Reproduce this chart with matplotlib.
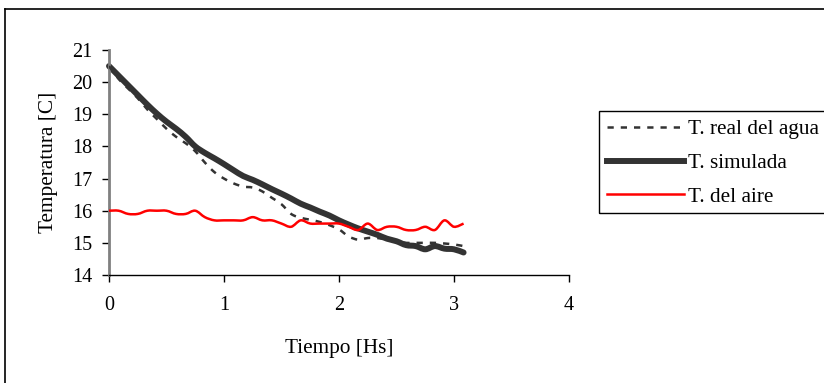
import matplotlib
matplotlib.use("Agg")
import matplotlib.pyplot as plt
from matplotlib.patches import Rectangle, PathPatch
from matplotlib.lines import Line2D
from matplotlib.path import Path

plt.rcParams["font.family"] = ["Liberation Serif", "DejaVu Serif"]

# time in minutes (5-min sampling)
minutes = [0, 5, 10, 15, 20, 25, 30, 35, 40, 45, 50, 55, 60, 65, 70, 75, 80, 85, 90,
           95, 100, 105, 110, 115, 120, 125, 130, 135, 140, 145, 150, 155, 160, 165,
           170, 175, 180, 185]

t_real = [20.5, 20.1, 19.8, 19.5, 19.15, 18.85, 18.55, 18.3, 18.1, 17.85, 17.5, 17.2,
          17.0, 16.85, 16.75, 16.72, 16.6, 16.4, 16.2, 15.9, 15.78, 15.72, 15.65, 15.55,
          15.42, 15.2, 15.1, 15.15, 15.15, 15.1, 15.05, 15.0, 15.0, 15.0, 15.0, 14.98,
          14.95, 14.9]

t_sim = [20.5, 20.2, 19.9, 19.6, 19.3, 19.02, 18.77, 18.55, 18.3, 18.0, 17.8, 17.63,
         17.45, 17.26, 17.08, 16.96, 16.82, 16.67, 16.53, 16.38, 16.22, 16.1, 15.97,
         15.85, 15.7, 15.57, 15.45, 15.35, 15.25, 15.13, 15.05, 14.93, 14.9, 14.8, 14.9,
         14.82, 14.8, 14.7]

t_air = [16.0, 16.0, 15.9, 15.9, 16.0, 16.0, 16.0, 15.9, 15.9, 16.0, 15.8, 15.7, 15.7,
         15.7, 15.7, 15.8, 15.7, 15.7, 15.6, 15.5, 15.7, 15.6, 15.6, 15.6, 15.6, 15.5,
         15.4, 15.6, 15.4, 15.5, 15.5, 15.4, 15.4, 15.5, 15.4, 15.7, 15.5, 15.6]

labels = ["T. real del agua", "T. simulada", "T. del aire"]
DARK = "#333333"
RED = "#ff0000"


def smooth_path(x, y):
    """Excel-style smoothed line: cubic Bezier segments through every point."""
    verts = [(x[0], y[0])]
    codes = [Path.MOVETO]
    n = len(x)
    for i in range(n - 1):
        x0, y0 = (x[i - 1], y[i - 1]) if i > 0 else (x[i], y[i])
        x3, y3 = (x[i + 2], y[i + 2]) if i + 2 < n else (x[i + 1], y[i + 1])
        c1 = (x[i] + (x[i + 1] - x0) / 6, y[i] + (y[i + 1] - y0) / 6)
        c2 = (x[i + 1] - (x3 - x[i]) / 6, y[i + 1] - (y3 - y[i]) / 6)
        verts += [c1, c2, (x[i + 1], y[i + 1])]
        codes += [Path.CURVE4] * 3
    return Path(verts, codes)


hours = [m / 60 for m in minutes]

W, H = 824, 383
fig = plt.figure(figsize=(W / 100, H / 100), dpi=100)
ax = fig.add_axes([109 / W, 1 - 275 / H, 460 / W, 225 / H])

ax.add_patch(PathPatch(smooth_path(hours, t_real), fill=False, ec=DARK, lw=1.8,
                       ls=(0, (2.5, 2.8)), zorder=3))
ax.add_patch(PathPatch(smooth_path(hours, t_sim), fill=False, ec=DARK, lw=4.3,
                       capstyle="round", zorder=2, clip_on=False))
ax.add_patch(PathPatch(smooth_path(hours, t_air), fill=False, ec=RED, lw=1.8, zorder=4))

ax.set_xlim(0, 4)
ax.set_ylim(14, 21)
ax.set_xticks([0, 1, 2, 3, 4])
ax.set_yticks(range(14, 22))

for s in ["top", "right"]:
    ax.spines[s].set_visible(False)
ax.spines["left"].set_color("#808080")
ax.spines["left"].set_linewidth(2)
ax.spines["bottom"].set_color("black")
ax.spines["bottom"].set_linewidth(1)
ax.tick_params(axis="both", direction="out", length=5, width=1, color="black",
               labelsize=14.5, pad=7)
ax.tick_params(axis="x", pad=10)

ax.set_xlabel("Tiempo [Hs]", fontsize=15.3)
ax.set_ylabel("Temperatura [C]", fontsize=15.3)
ax.xaxis.set_label_coords(0.5, -0.285)
ax.yaxis.set_label_coords(-0.111, 0.5)

# outer chart-area frame (open at right and bottom)
fig.add_artist(Line2D([5 / W, 5 / W], [0, 1 - 9 / H], transform=fig.transFigure,
                      color="black", lw=1.2))
fig.add_artist(Line2D([5 / W, 1], [1 - 9 / H, 1 - 9 / H], transform=fig.transFigure,
                      color="black", lw=1.2))

# legend box
fig.add_artist(Rectangle((599 / W, 1 - 213 / H), 240 / W, 102 / H,
                         transform=fig.transFigure, fill=False, ec="black", lw=1))
handles = [Line2D([], [], color=DARK, lw=1.8, ls=(0, (2.5, 2.8))),
           Line2D([], [], color=DARK, lw=4.3),
           Line2D([], [], color=RED, lw=1.8)]
fig.legend(handles, labels, loc="upper left", bbox_to_anchor=(601 / W, 1 - 113 / H),
           frameon=False, fontsize=15.3, handlelength=3.6, handletextpad=0.2,
           labelspacing=0.65, borderaxespad=0, borderpad=0.3)

fig.savefig("out.png", dpi=100, facecolor="white")
